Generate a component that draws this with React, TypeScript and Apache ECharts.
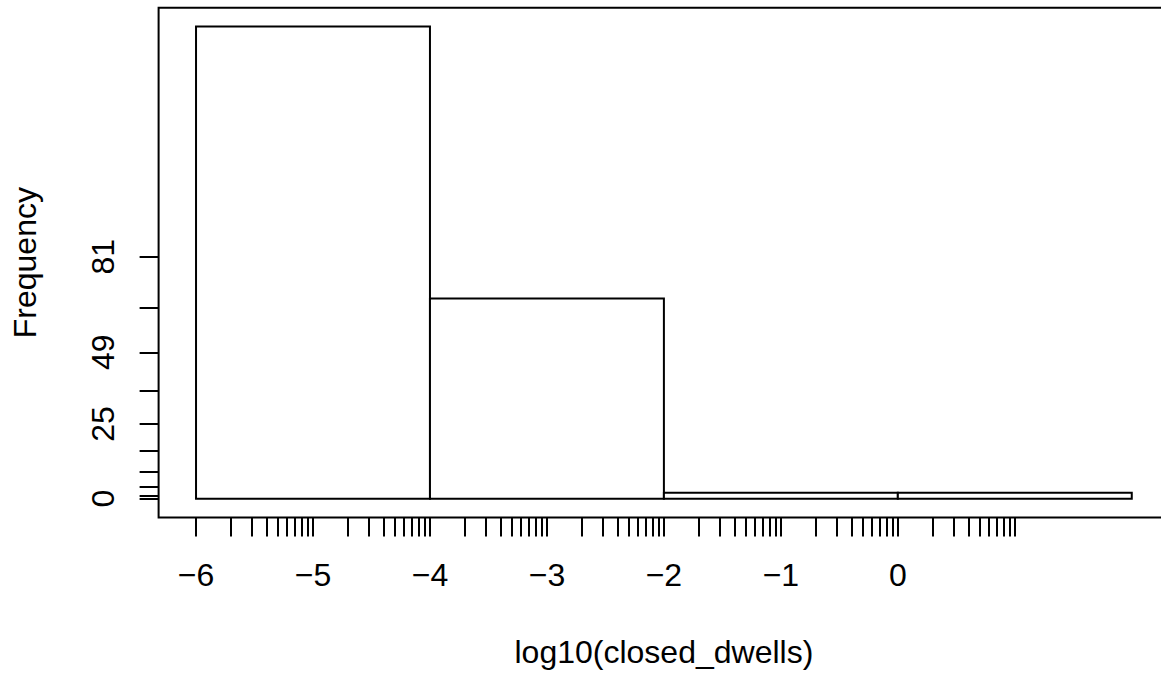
import React, { useEffect, useRef } from "react";
import * as echarts from "echarts";

// Histogram data (bin edges on log10 scale, and counts per bin)
const binEdges = [-6, -4, -2, 0, 2];
const counts = [158, 67, 2, 2];

// X axis: decades and multipliers for log-style ticks
const xDecades = [-6, -5, -4, -3, -2, -1, 0];
const minorMultipliers = [1, 2, 3, 4, 5, 6, 7, 8, 9];
const xTickEnd = 1;
const xLabelValues = [-6, -5, -4, -3, -2, -1, 0];

// Y axis ticks and labels
const yTickValues = [0, 1, 4, 9, 16, 25, 36, 49, 64, 81];
const yLabelValues = [0, 25, 49, 81];

const xName = "log10(closed_dwells)";
const yName = "Frequency";

const FONT = "'Liberation Sans', Arial, Helvetica, sans-serif";
const FS = 32;

export default function App() {
  const ref = useRef<HTMLDivElement>(null);

  useEffect(() => {
    if (!ref.current) return;
    const chart = echarts.init(ref.current, null, { renderer: "svg" });

    const xTicks: number[] = [];
    xDecades.forEach((d) => {
      minorMultipliers.forEach((k) => xTicks.push(d + Math.log10(k)));
    });
    xTicks.push(xTickEnd);

    const xMin = binEdges[0];
    const xMax = binEdges[binEdges.length - 1];
    const xPad = (xMax - xMin) * 0.04;
    const yMax = Math.max(...counts);
    const yPad = yMax * 0.04;

    const data = counts.map((c, i) => [binEdges[i], binEdges[i + 1], c]);

    chart.setOption({
      animation: false,
      backgroundColor: "#ffffff",
      grid: {
        left: 158.6,
        top: 7.7,
        width: 1010.6,
        height: 509.9,
        show: true,
        borderColor: "#000",
        borderWidth: 2,
        backgroundColor: "transparent",
        containLabel: false,
        outerBoundsMode: "none",
      },
      xAxis: {
        type: "value",
        position: "bottom",
        min: xMin - xPad,
        max: xMax + xPad,
        splitLine: { show: false },
        axisLine: { show: false, onZero: false },
        axisTick: {
          show: true,
          inside: false,
          length: 19,
          customValues: xTicks,
          lineStyle: { color: "#000", width: 2 },
        },
        axisLabel: {
          show: true,
          customValues: xLabelValues,
          margin: 41,
          color: "#000",
          fontFamily: FONT,
          fontSize: FS,
          formatter: (v: number) => (v < 0 ? "\u2212" + Math.abs(v) : String(v)),
        },
        name: xName,
        nameLocation: "middle",
        nameGap: 118,
        nameTextStyle: { color: "#000", fontFamily: FONT, fontSize: FS },
      },
      yAxis: {
        type: "value",
        position: "left",
        min: -yPad,
        max: yMax + yPad,
        splitLine: { show: false },
        axisLine: { show: false, onZero: false },
        axisTick: {
          show: true,
          inside: false,
          length: 19,
          customValues: yTickValues,
          lineStyle: { color: "#000", width: 2 },
        },
        axisLabel: {
          show: true,
          customValues: yLabelValues,
          rotate: 90,
          margin: 40,
          color: "#000",
          fontFamily: FONT,
          fontSize: FS,
        },
        name: yName,
        nameLocation: "middle",
        nameRotate: 90,
        nameGap: 118,
        nameTextStyle: { color: "#000", fontFamily: FONT, fontSize: FS },
      },
      series: [
        {
          type: "custom",
          data,
          encode: { x: [0, 1], y: 2 },
          renderItem: (params: any, api: any) => {
            const x0 = api.value(0);
            const x1 = api.value(1);
            const y = api.value(2);
            const p0 = api.coord([x0, y]);
            const p1 = api.coord([x1, 0]);
            return {
              type: "rect",
              shape: {
                x: p0[0],
                y: p0[1],
                width: p1[0] - p0[0],
                height: p1[1] - p0[1],
              },
              style: { fill: "#ffffff", stroke: "#000000", lineWidth: 2 },
            };
          },
        },
      ],
    });

    return () => chart.dispose();
  }, []);

  return (
    <div
      ref={ref}
      style={{ position: "fixed", left: 0, top: 0, width: 1161, height: 675, background: "#fff" }}
    />
  );
}
